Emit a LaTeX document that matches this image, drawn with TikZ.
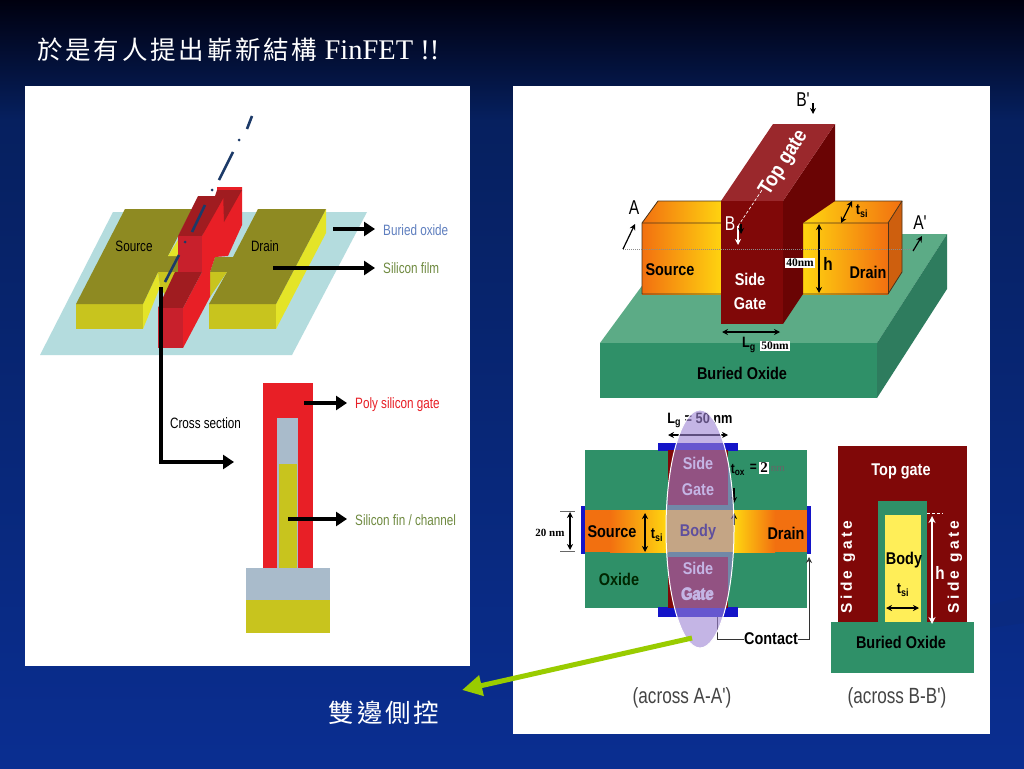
\documentclass[tikz,border=0pt]{standalone}
\usepackage{fontspec}
\usepackage{graphicx}
\setmainfont{Liberation Serif}
\setsansfont{Liberation Sans}
\newfontfamily\cjk[LetterSpace=11]{Noto Sans CJK TC}
\newfontfamily\nar[FakeStretch=0.78]{Liberation Sans}
\newfontfamily\narb[FakeStretch=0.85,UprightFont=* Bold]{Liberation Sans}
\newfontfamily\wideb[LetterSpace=22,UprightFont=* Bold]{Liberation Sans}
\usetikzlibrary{arrows.meta,calc}
\definecolor{bgtop}{HTML}{00000F}
\definecolor{bgmid}{HTML}{06205F}
\definecolor{bgbot}{HTML}{0A2E91}
\definecolor{swoosh}{HTML}{0A2A80}
\definecolor{plane}{HTML}{B4DCDE}
\definecolor{olive}{HTML}{8E8A22}
\definecolor{ylw}{HTML}{C8C41E}
\definecolor{ylwb}{HTML}{E4E428}
\definecolor{rd}{HTML}{E81F26}
\definecolor{rdm}{HTML}{C8202C}
\definecolor{rdd}{HTML}{A01C20}
\definecolor{axisc}{HTML}{1C3A68}
\definecolor{grayb}{HTML}{A9BBCB}
\definecolor{lblue}{HTML}{5F7FBF}
\definecolor{lgreen}{HTML}{6F8A40}
\definecolor{boxtop}{HTML}{5CAB86}
\definecolor{boxfr}{HTML}{2F9068}
\definecolor{boxsd}{HTML}{2E7C5E}
\definecolor{gfr}{HTML}{800808}
\definecolor{gtop}{HTML}{9A282C}
\definecolor{gsd}{HTML}{6A0404}
\definecolor{orng}{HTML}{F27010}
\definecolor{yel}{HTML}{FFD810}
\definecolor{pale}{HTML}{FFEE58}
\definecolor{cont}{HTML}{1414C8}
\definecolor{oval}{HTML}{9E84D4}
\definecolor{capt}{HTML}{444444}
\definecolor{lime}{HTML}{99CC00}
\tikzset{
  x=1pt,y=-1pt,
  lab/.style={inner sep=0pt,anchor=west,font=\nar\fontsize{15}{15}\selectfont},
  bold/.style={inner sep=0pt,font=\narb\fontsize{15}{15}\selectfont,align=center},
  whitebold/.style={bold,text=white},
  capt/.style={inner sep=0pt,font=\nar\fontsize{22}{22}\selectfont,text=capt},
  numbox/.style={fill=white,inner sep=1pt,font=\bfseries\fontsize{11.5}{12}\selectfont},
  thick arrow/.style={line width=3.2pt,-{Triangle[length=11pt,width=14pt]},black},
  tiny arrow/.style={line width=1.2pt,{Stealth[length=6pt,width=6pt]}-{Stealth[length=6pt,width=6pt]},black},
  one arrow/.style={line width=1.2pt,-{Stealth[length=6pt,width=6pt]},black},
  edge line/.style={draw=black!60!brown,line width=.8pt}
}
\begin{document}
\begin{tikzpicture}
\useasboundingbox (0,0) rectangle (1024,768);
% slide background
\shade[top color=bgtop,bottom color=bgmid,draw=none] (0,0) rectangle (1024,120);
\shade[top color=bgmid,bottom color=bgbot,draw=none] (0,120) rectangle (1024,768);
\fill[swoosh] (990,605) -- (1024,596) -- (1024,623) -- (990,628) -- cycle;
% panels
\fill[white] (25,86) rectangle (470,666);
\fill[white] (513,86) rectangle (990,734);
% title
\node[inner sep=0pt,anchor=west,text=white,font=\fontsize{28.5}{30}\selectfont] (title) at (37,50)
  {{\cjk\fontsize{25.5}{28}\selectfont 於是有人提出嶄新結構} FinFET !!};
% ---- left 3D device
\fill[plane] (113,212) -- (367,212) -- (292,355) -- (40,355) -- cycle;
% drain
\fill[ylwb] (276,304) -- (326,209) -- (326,233) -- (276,329) -- cycle;
\fill[ylw] (209,304) rectangle (276,329);
\fill[olive] (258,209) -- (326,209) -- (276,304) -- (209,304) -- (227,272) -- (210,272) -- (215,257) -- (233,257) -- cycle;
\fill[ylw] (210,272) -- (227,272) -- (210,297) -- cycle;
% source
\fill[ylwb] (143,304) -- (158,272) -- (160,287) -- (143,329) -- cycle;
\fill[ylw] (76,304) rectangle (143,329);
\fill[olive] (125,209) -- (192,209) -- (168,256) -- (178,256) -- (178,272) -- (158,272) -- (143,304) -- (76,304) -- cycle;
\fill[ylwb] (168,256) -- (178,240) -- (178,256) -- cycle;
\fill[ylw] (158,272) -- (178,272) -- (165,295) -- (160,287) -- cycle;
% gate
\fill[rd] (202,236) -- (217,203) -- (217,187) -- (242,187) -- (242,225) -- (228,256) -- (215,257) -- (210,272) -- (210,297) -- (183,348) -- (183,308) -- (202,272) -- cycle;
\fill[rdd] (223,190) -- (242,190) -- (224,222) -- cycle;
\fill[rdd] (178,236) -- (198,196) -- (215,196) -- (217,190) -- (223,190) -- (224,197) -- (202,236) -- cycle;
\fill[rdm] (178,236) rectangle (202,272);
\fill[rdd] (175,272) -- (202,272) -- (183,308) -- (158,308) -- cycle;
\fill[rdm] (158,308) rectangle (183,348);
% axis
\begin{scope}[axisc,line width=2.6pt]
\draw (252,116) -- (247,129);
\fill (239,140) circle (1.5);
\draw (233,152) -- (219,180);
\fill (212,190) circle (1.5);
\draw (205,205) -- (192,232);
\fill (185,242) circle (1.5);
\draw (179,255) -- (165,282);
\end{scope}
\node[inner sep=0pt,font=\nar\fontsize{15}{15}\selectfont] (srcL) at (134,246) {Source};
\node[inner sep=0pt,font=\nar\fontsize{15}{15}\selectfont] (drnL) at (265,246) {Drain};
% leader labels
\node[lab,text=lblue] (buried) at (383,230) {Buried oxide};
\node[lab,text=lgreen] (film) at (383,268) {Silicon film};
\node[lab,text=rd] (poly) at (355,405) {Poly silicon gate};
\node[lab,text=lgreen] (finlab) at (355,520) {Silicon fin / channel};
\node[lab,anchor=center] (cross) at (205.5,423) {Cross section};
\coordinate (b0) at (333,229);
\coordinate (f0) at (273,268);
\coordinate (p0) at (304,403);
\coordinate (c0) at (288,519);
\coordinate (b1) at (375,229);
\coordinate (f1) at (375,268);
\coordinate (p1) at (347,403);
\coordinate (c1) at (347,519);
\draw[thick arrow] (b0) -- (b1);
\draw[thick arrow] (f0) -- (f1);
% cross section
\fill[rd] (263,383) rectangle (313,568);
\fill[grayb] (277,418) rectangle (298,568);
\fill[ylw] (279,464) rectangle (297,568);
\fill[grayb] (246,568) rectangle (330,600);
\fill[ylw] (246,600) rectangle (330,633);
\draw[thick arrow] (c0) -- (c1);
\draw[thick arrow] (p0) -- (p1);
\coordinate (cs0) at (161,287);
\coordinate (cs1) at (234,462);
\draw[thick arrow] (cs0) |- (cs1);
% ---- right 3D device
\fill[boxtop] (600,343) -- (680,234) -- (947,234) -- (877,343) -- cycle;
\fill[boxfr] (600,343) rectangle (877,398);
\fill[boxsd] (877,343) -- (947,234) -- (947,289) -- (877,398) -- cycle;
\fill[orng!85!black] (888,223) -- (902,201) -- (902,272) -- (888,294) -- cycle;
\shade[left color=orng,right color=yel] (642,223) rectangle (725,294);
\shade[left color=yel,right color=orng] (800,223) rectangle (888,294);
\shade[left color=orng,right color=yel] (642,223) -- (658,201) -- (725,201) -- (725,223) -- cycle;
\shade[left color=yel,right color=orng] (800,223) -- (800,201) -- (902,201) -- (888,223) -- cycle;
\draw[edge line] (642,294) -- (642,223) -- (658,201) -- (902,201) -- (902,272) -- (888,294) -- (642,294);
\draw[edge line] (642,223) -- (888,223) -- (902,201);
\draw[edge line] (888,223) -- (888,294);
\fill[gsd] (783,201) -- (835,124) -- (835,201) -- (803,223) -- (803,294) -- (783,324) -- cycle;
\fill[gtop] (721,201) -- (773,124) -- (835,124) -- (783,201) -- cycle;
\fill[gfr] (721,201) rectangle (783,324);
\draw[white,densely dashed,line width=.7pt] (738,226) -- (762,190);
\node[whitebold,rotate=58,font=\narb\fontsize{21}{22}\selectfont] (topg) at (784,163) {Top gate};
\node[whitebold,font=\narb\fontsize{17}{24}\selectfont] (sideg) at (750,291) {Side\\Gate};
\node[bold,font=\narb\fontsize{17}{18}\selectfont] (srcR) at (670,270) {Source};
\node[bold,font=\narb\fontsize{17}{18}\selectfont] (drnR) at (868,272) {Drain};
\node[bold,font=\narb\fontsize{17}{18}\selectfont] (boxR) at (742,373) {Buried Oxide};
\node[numbox] (n40) at (800,263) {40nm};
\node[bold,font=\narb\fontsize{18}{18}\selectfont] (hR) at (828,264) {h};
\draw[tiny arrow] (819,224) -- (819,293);
\draw[tiny arrow] (722,332) -- (780,332);
\node[bold,font=\narb\fontsize{15}{15}\selectfont] (lg) at (749,345) {L\textsubscript{g}};
\node[numbox] (n50) at (775,346) {50nm};
\node[inner sep=0pt,font=\nar\fontsize{20}{20}\selectfont] (aL) at (634,208) {A};
\node[inner sep=0pt,font=\nar\fontsize{20}{20}\selectfont] (aR) at (920,223) {A'};
\node[inner sep=0pt,font=\nar\fontsize{20}{20}\selectfont] (bT) at (803,100) {B'};
\node[whitebold,font=\nar\fontsize{20}{20}\selectfont] (bB) at (730,224) {B};
\coordinate (aa0) at (623,249);
\coordinate (aa1) at (917,249);
\draw[black!45,densely dotted,line width=1pt] (aa0) -- (aa1);
\draw[one arrow] (aa0) -- (635,224);
\draw[one arrow] (913,251) -- (922,236);
\draw[one arrow] (813,103) -- (813,114);
\draw[one arrow,white] (738,226) -- (738,245);
\draw[one arrow,black] (741,224) -- (741,234);
\draw[tiny arrow] (841,223) -- (852,201);
\node[bold,font=\narb\fontsize{15}{15}\selectfont] (tsiR) at (862,211) {t\textsubscript{si}};
% ---- across A-A'
\fill[boxfr] (585,450) rectangle (807,608);
\fill[orng] (585,510) rectangle (807,552);
\shade[left color=orng,right color=yel] (610,510) rectangle (668,552);
\shade[left color=yel,right color=orng] (733,510) rectangle (775,552);
\fill[yel] (668,510) rectangle (733,552);
\fill[cont] (658,443) rectangle (738,451);
\fill[cont] (658,607) rectangle (738,617);
\fill[cont] (581,506) rectangle (585,554);
\fill[cont] (807,506) rectangle (811,554);
\fill[gfr] (668,450) rectangle (728,505);
\fill[gfr] (668,557) rectangle (728,608);
\node[bold,font=\narb\fontsize{17}{26}\selectfont,text=white] (sg1) at (698,476) {Side\\Gate};
\node[bold,font=\narb\fontsize{17}{25}\selectfont,text=white] (sg2) at (698,581) {Side\\Gate};
\node[bold,font=\narb\fontsize{17}{17}\selectfont,text=white] (sg3) at (697,595) {Gate};
\node[bold,font=\narb\fontsize{17}{18}\selectfont,text=black!70!blue] (body1) at (698,532) {Body};
\node[bold,font=\narb\fontsize{17}{18}\selectfont] (srcC) at (612,532) {Source};
\node[bold,font=\narb\fontsize{17}{18}\selectfont] (drnC) at (786,533) {Drain};
\node[bold,font=\narb\fontsize{17}{18}\selectfont,text=black!85!green] (oxC) at (619,579) {Oxide};
\node[bold,font=\narb\fontsize{15}{15}\selectfont] (tsiC) at (657,535) {t\textsubscript{si}};
\node[bold,font=\narb\fontsize{15}{15}\selectfont] (lgC) at (700,420) {L\textsubscript{g} = 50 nm};
\node[bold,font=\narb\fontsize{14}{15}\selectfont] (tox) at (738,470) {t\textsubscript{ox}};
\node[bold,font=\narb\fontsize{14}{15}\selectfont,anchor=east] (eq) at (757,468) {=};
\node[numbox,fill=white,font=\bfseries\fontsize{15}{15}\selectfont,inner sep=1pt] (two) at (764,468) {2};
\node[inner sep=0pt,font=\fontsize{11}{12}\selectfont,text=black!60] (nmC) at (778,469) {nm};
\node[inner sep=0pt,font=\bfseries\fontsize{11}{12}\selectfont] (nm20) at (550,533) {20 nm};
\draw[tiny arrow] (645,513) -- (645,552);
\draw[tiny arrow] (570,512) -- (570,550);
\draw[black!60,line width=.6pt] (560,511) -- (575,511) (560,551) -- (575,551);
\draw[tiny arrow] (668,435) -- (728,435);
\draw[one arrow] (734,488) -- (734,503);
\draw[one arrow] (734,525) -- (734,513);
\node[bold,font=\narb\fontsize{17}{18}\selectfont] (contact) at (771,639) {Contact};
\coordinate (ct0) at (717,617);
\coordinate (ct1) at (809,557);
\draw[black!80,line width=.8pt] (ct0) |- (contact.west);
\draw[black!80,line width=.8pt,-{Stealth[length=6pt,width=6pt]}] (contact.east) -| (ct1);
% highlight oval
\fill[oval,fill opacity=.6] (700,529) ellipse [x radius=34,y radius=119];
\draw[white,line width=1pt] (700,529) ellipse [x radius=34,y radius=119];
\node[capt] (capA) at (682,698) {(across A-A')};
% ---- across B-B'
\fill[gfr] (838,446) rectangle (967,622);
\fill[boxfr] (878,501) rectangle (927,623);
\fill[pale] (885,515) rectangle (921,623);
\fill[boxfr] (831,622) rectangle (974,673);
\node[whitebold,font=\narb\fontsize{17}{18}\selectfont] (topB) at (901,471) {Top gate};
\node[whitebold,rotate=90,font=\wideb\fontsize{15.5}{16}\selectfont] (sgL) at (848,567) {Side gate};
\node[whitebold,rotate=90,font=\wideb\fontsize{15.5}{16}\selectfont] (sgR) at (955,567) {Side gate};
\node[bold,font=\narb\fontsize{17}{18}\selectfont] (bodyB) at (904,560) {Body};
\node[bold,font=\narb\fontsize{15}{15}\selectfont] (tsiB) at (903,590) {t\textsubscript{si}};
\draw[tiny arrow] (886,608) -- (919,608);
\draw[white,line width=1.2pt,{Stealth[length=7pt,width=7pt]}-{Stealth[length=7pt,width=7pt]}] (932,516) -- (932,624);
\draw[white,densely dashed,line width=.6pt] (927,513) -- (943,513);
\node[whitebold,font=\narb\fontsize{18}{18}\selectfont] (hB) at (940,573) {h};
\node[bold,font=\narb\fontsize{17}{18}\selectfont] (boxB) at (901,642) {Buried Oxide};
\node[capt] (capB) at (897,698) {(across B-B')};
% ---- callout
\coordinate (arrTail) at (692,638);
\coordinate (arrTip) at (462,690);
\draw[lime,line width=5pt,-{Triangle[length=20pt,width=20pt]}] (arrTail) -- (arrTip);
\node[inner sep=0pt,text=white,font=\cjk\fontsize{25.5}{28}\selectfont] (side) at (384,713) {雙邊側控};
\end{tikzpicture}
\end{document}
